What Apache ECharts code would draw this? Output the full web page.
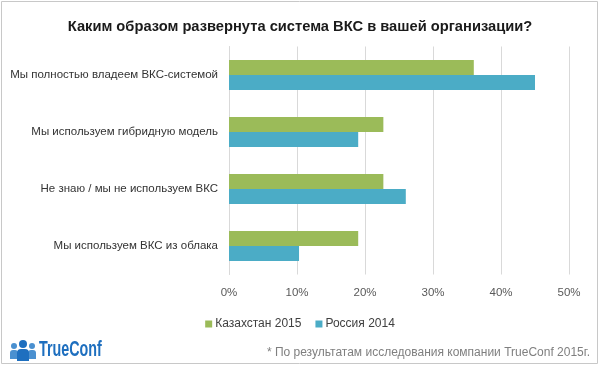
<!DOCTYPE html>
<html>
<head>
<meta charset="utf-8">
<script src="https://cdn.jsdelivr.net/npm/echarts@6/dist/echarts.min.js"></script>
<style>
html,body{margin:0;padding:0;background:#fff;}
#chart{width:600px;height:366px;}
</style>
</head>
<body>
<div id="chart"></div>
<script>
var categories = [
  'Мы полностью владеем ВКС-системой',
  'Мы используем гибридную модель',
  'Не знаю / мы не используем ВКС',
  'Мы используем ВКС из облака'
];
var seriesNames = ['Казахстан 2015', 'Россия 2014'];
var kazakhstan2015 = [36, 22.7, 22.7, 19];
var russia2014 = [45, 19, 26, 10.3];
var xTicks = [0, 10, 20, 30, 40, 50];

var chart = echarts.init(document.getElementById('chart'), null, {renderer: 'canvas'});
var font = '"Liberation Sans", Arial, sans-serif';
var option = {
  backgroundColor: '#ffffff',
  animation: false,
  title: {
    text: 'Каким образом развернута система ВКС в вашей организации?',
    left: 'center',
    top: 14,
    textStyle: {fontFamily: font, fontSize: 14.7, fontWeight: 'bold', color: '#1a1a1a'}
  },
  legend: {
    data: seriesNames,
    top: 313,
    left: 'center',
    itemWidth: 7,
    itemHeight: 7,
    itemGap: 14,
    icon: 'rect',
    textStyle: {fontFamily: font, fontSize: 12, color: '#404040', padding: [0, 0, 0, -2]}
  },
  grid: {left: 229, width: 340, top: 46.5, height: 228, containLabel: false, outerBoundsMode: 'none'},
  xAxis: {
    type: 'value',
    min: xTicks[0],
    max: xTicks[xTicks.length - 1],
    interval: 10,
    axisLine: {show: false},
    axisTick: {show: false},
    splitLine: {show: true, lineStyle: {color: '#d9d9d9', width: 1}},
    axisLabel: {formatter: '{value}%', fontFamily: font, fontSize: 11.5, color: '#595959', margin: 12}
  },
  yAxis: {
    type: 'category',
    data: categories,
    inverse: true,
    axisLine: {show: true, lineStyle: {color: '#d9d9d9'}},
    axisTick: {show: false},
    axisLabel: {fontFamily: font, fontSize: 11.5, color: '#333333', margin: 11}
  },
  series: [
    {name: seriesNames[0], type: 'bar', data: kazakhstan2015, barWidth: 15, barGap: '0%',
     itemStyle: {color: '#9bbb59'}},
    {name: seriesNames[1], type: 'bar', data: russia2014, barWidth: 15, barGap: '0%',
     itemStyle: {color: '#4bacc6'}}
  ],
  graphic: [
    {type: 'rect', shape: {x: 1.5, y: 1.5, width: 596, height: 362}, style: {fill: 'none', stroke: '#c8c8c8', lineWidth: 1}, silent: true},
    {type: 'text', right: 10, top: 347, style: {text: '* По результатам исследования компании TrueConf 2015г.', font: '12px ' + font, fill: '#7f7f7f'}},
    {type: 'group', left: 10, top: 339, children: [
      {type: 'circle', shape: {cx: 4, cy: 7, r: 3}, style: {fill: '#4a90d0'}},
      {type: 'rect', shape: {x: 0, y: 11, width: 8, height: 9, r: [3, 3, 0, 0]}, style: {fill: '#4a90d0'}},
      {type: 'circle', shape: {cx: 22, cy: 7, r: 3}, style: {fill: '#4a90d0'}},
      {type: 'rect', shape: {x: 18, y: 11, width: 8, height: 9, r: [3, 3, 0, 0]}, style: {fill: '#4a90d0'}},
      {type: 'circle', shape: {cx: 13, cy: 5, r: 4}, style: {fill: '#1e6fbf'}},
      {type: 'rect', shape: {x: 7, y: 10, width: 12, height: 12, r: [4, 4, 0, 0]}, style: {fill: '#1e6fbf'}},
      {type: 'text', x: 29, y: 0, scaleX: 0.65, style: {text: 'TrueConf', font: 'bold 22px "Liberation Sans", sans-serif', fill: '#1e6fbf'}}
    ]}
  ]
};
chart.setOption(option);
</script>
</body>
</html>
